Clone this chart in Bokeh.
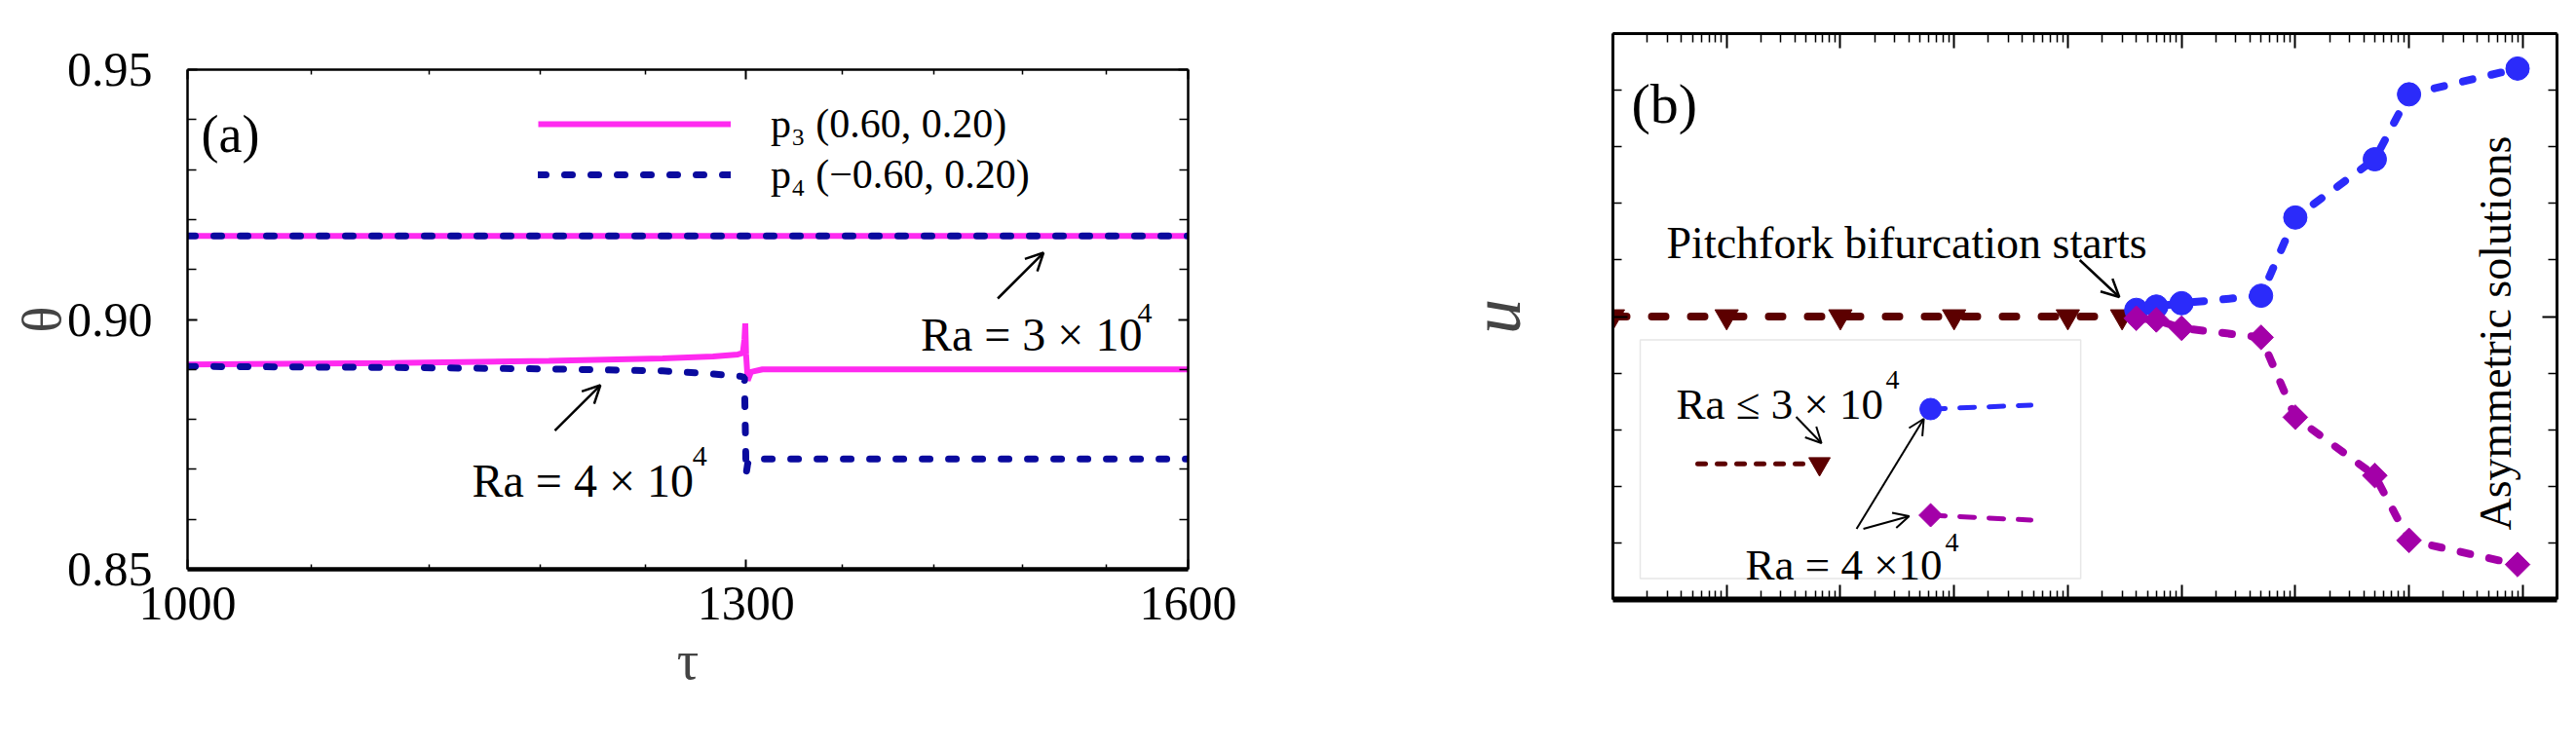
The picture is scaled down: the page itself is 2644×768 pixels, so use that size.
import math
from bokeh.plotting import figure
from bokeh.core.properties import value
from bokeh.models import (Range1d, FixedTicker, LogAxis, LinearAxis, PrintfTickFormatter,
                          Label, Arrow, OpenHead, BoxAnnotation, Legend, LegendItem)
from bokeh.embed import file_html
from bokeh.resources import INLINE

FONT = "Liberation Serif"

# ---------------- panel (a) data ----------------
tau_ra3 = [1000, 1600]
theta_ra3_p3 = [0.9167, 0.9167]
theta_ra3_p4 = [0.9167, 0.9167]

tau_p3_ra4 = [1000, 1100, 1185, 1250, 1280, 1295, 1298, 1299, 1299.5, 1300, 1301, 1303, 1310, 1400, 1600]
theta_p3_ra4 = [0.8910, 0.8913, 0.8917, 0.8922, 0.8926, 0.8930, 0.8933, 0.8960, 0.8992, 0.8930,
                0.8878, 0.8895, 0.8900, 0.8900, 0.8900]

tau_p4_ra4 = [1000, 1100, 1185, 1250, 1280, 1290, 1297, 1299, 1300, 1301, 1303, 1310, 1400, 1600]
theta_p4_ra4 = [0.8906, 0.8904, 0.8901, 0.8897, 0.8891, 0.8888, 0.8886, 0.8884, 0.8690, 0.8712,
                0.8720, 0.8721, 0.8721, 0.8721]

a_xticks = [1000, 1300, 1600]
a_xminor = [1060, 1120, 1180, 1240, 1360, 1420, 1480, 1540]
a_yticks = [0.85, 0.90, 0.95]
a_yminor = [0.86, 0.87, 0.88, 0.89, 0.91, 0.92, 0.93, 0.94]

# ---------------- panel (b) data ----------------
ra_sym = [1, 10, 100, 1000, 1e4, 3e4]
u_sym = [0, 0, 0, 0, 0, 0]
ra_asym = [4e4, 6e4, 1e5, 5e5, 1e6, 5e6, 1e7, 9e7]
u_upper = [0.0008, 0.0012, 0.0016, 0.0025, 0.0119, 0.0189, 0.0267, 0.0298]
u_lower = [-0.0002, -0.0004, -0.0014, -0.0025, -0.0121, -0.0191, -0.0269, -0.0298]

b_xticks = [10 ** k for k in range(9)]
b_xlabel_ticks = [1, 100, 1e4, 1e6, 1e8]
b_xlabel_exps = ["0", "2", "4", "6", "8"]
b_xminor = [m * 10 ** k for k in range(8) for m in range(2, 10)]
b_yticks = [-0.034, 0, 0.034]
b_ylabels = ["−0.034", "0", "0.034"]
b_yminor = [k * 0.0068 for k in (-4, -3, -2, -1, 1, 2, 3, 4)]

MAGENTA_A = "#ff2af0"
NAVY_A = "#0a0a9e"
BROWN = "#5c0000"
BLUE = "#2b2bfa"
PURPLE = "#a300a8"


def style_axis(ax, size, maj, minr, lw, show_labels=True):
    ax.major_tick_in = maj
    ax.major_tick_out = 0
    ax.minor_tick_in = minr
    ax.minor_tick_out = 0
    ax.axis_line_width = lw
    ax.axis_line_color = "black"
    ax.major_tick_line_width = 2
    ax.minor_tick_line_width = 1.5
    ax.major_tick_line_color = "black"
    ax.minor_tick_line_color = "black"
    ax.major_label_text_font = FONT
    ax.major_label_text_color = "black"
    if show_labels:
        ax.major_label_text_font_size = size
    else:
        ax.major_label_text_font_size = "0px"
        ax.major_label_standoff = 0


def lab(p, x, y, text, size, **kw):
    p.add_layout(Label(x=x, y=y, text=text, text_font=FONT, text_font_size=size,
                       text_color="black", text_baseline=kw.pop("baseline", "alphabetic"),
                       text_align=kw.pop("align", "left"), **kw))


def arrow(p, xs, ys, xe, ye, size=18, lw=2.5):
    p.add_layout(Arrow(end=OpenHead(size=size, line_width=lw, line_color="black"),
                       x_start=xs, y_start=ys, x_end=xe, y_end=ye,
                       line_width=lw, line_color="black"))


# ================= panel (a) =================
p1 = figure(x_axis_type="log", x_range=Range1d(1000, 1600), y_range=Range1d(0.85, 0.95),
            frame_width=1027, frame_height=513, min_border_left=180, min_border_right=123,
            min_border_top=63, min_border_bottom=176, output_backend="svg",
            toolbar_location=None, background_fill_color="white", border_fill_color="white")
p1.outline_line_color = None
p1.xgrid.visible = False
p1.ygrid.visible = False

xt_a = FixedTicker(ticks=a_xticks, minor_ticks=a_xminor)
yt_a = FixedTicker(ticks=a_yticks, minor_ticks=a_yminor)

p1.xaxis.ticker = xt_a
p1.xaxis.formatter = PrintfTickFormatter(format="%d")
style_axis(p1.xaxis[0], "50px", 10, 5, 4.5)
p1.xaxis.major_label_standoff = 18
p1.xaxis.axis_label = "τ"
p1.xaxis.axis_label_text_font = FONT
p1.xaxis.axis_label_text_font_size = "56px"
p1.xaxis.axis_label_text_font_style = "normal"
p1.xaxis.axis_label_standoff = 8

p1.yaxis.ticker = yt_a
p1.yaxis.formatter = PrintfTickFormatter(format="%.2f")
style_axis(p1.yaxis[0], "50px", 10, 9, 2.5)
p1.yaxis.major_label_standoff = 36
p1.yaxis.axis_label = "θ"
p1.yaxis.axis_label_text_font = FONT
p1.yaxis.axis_label_text_font_size = "56px"
p1.yaxis.axis_label_text_font_style = "normal"
p1.yaxis.axis_label_standoff = -8

top_a = LogAxis(ticker=xt_a, formatter=PrintfTickFormatter(format="%d"))
style_axis(top_a, "0px", 10, 5, 2.5, show_labels=False)
p1.add_layout(top_a, "above")
right_a = LinearAxis(ticker=yt_a)
style_axis(right_a, "0px", 10, 9, 2.5, show_labels=False)
p1.add_layout(right_a, "right")

r3a = p1.line(tau_ra3, theta_ra3_p3, line_color=MAGENTA_A, line_width=6)
r3b = p1.line(tau_ra3, theta_ra3_p4, line_color=NAVY_A, line_width=7, line_dash="8 19",
              line_cap="round")
rp3 = p1.line(tau_p3_ra4, theta_p3_ra4, line_color=MAGENTA_A, line_width=6)
rp4 = p1.line(tau_p4_ra4, theta_p4_ra4, line_color=NAVY_A, line_width=7, line_dash="8 19",
              line_cap="round")

leg = Legend(items=[LegendItem(label="p₃ (0.60, 0.20)", renderers=[rp3]),
                    LegendItem(label="p₄ (−0.60, 0.20)", renderers=[rp4])],
             location=(360, 379), orientation="vertical", glyph_width=198, glyph_height=52,
             label_height=52, label_standoff=41, spacing=0, padding=0, margin=0,
             border_line_color=None, background_fill_alpha=0,
             label_text_font=FONT, label_text_font_size="42px", label_text_color="black")
p1.add_layout(leg)

lab(p1, 1006.4, 0.93694, "(a)", "54px")
lab(p1, 1411.1, 0.89698, "Ra = 3 × 10", "48px")
lab(p1, 1562.3, 0.90127, "4", "30px")
arrow(p1, 1463.1, 0.90419, 1494.9, 0.91335)
lab(p1, 1143.0, 0.86774, "Ra = 4 × 10", "48px")
lab(p1, 1267.6, 0.87261, "4", "30px")
arrow(p1, 1188.3, 0.87774, 1214.0, 0.88684)

# ================= panel (b) =================
p2 = figure(x_axis_type="log", x_range=Range1d(1, 2e8), y_range=Range1d(-0.034, 0.034),
            x_axis_location=None, y_axis_location=None, title=None,
            frame_width=969, frame_height=581, min_border_left=313, min_border_right=16,
            min_border_top=26, min_border_bottom=145, output_backend="svg",
            toolbar_location=None, background_fill_color="white", border_fill_color="white")
p2.outline_line_color = None
p2.xgrid.visible = False
p2.ygrid.visible = False

xt_b = FixedTicker(ticks=b_xticks, minor_ticks=b_xminor)
yt_b = FixedTicker(ticks=b_yticks, minor_ticks=b_yminor)

# plain-number formatters (labels hidden); text labels are drawn separately below
bottom_b = LogAxis(ticker=xt_b, formatter=PrintfTickFormatter(format="%g"))
style_axis(bottom_b, "0px", 15, 9, 6, show_labels=False)
p2.add_layout(bottom_b, "below")
left_b = LinearAxis(ticker=yt_b, formatter=PrintfTickFormatter(format="%g"))
style_axis(left_b, "0px", 15, 9, 3, show_labels=False)
left_b.axis_label = "u"
left_b.axis_label_text_font = FONT
left_b.axis_label_text_font_size = "72px"
left_b.axis_label_text_font_style = "italic"
left_b.axis_label_standoff = 80
p2.add_layout(left_b, "left")
top_b = LogAxis(ticker=xt_b, formatter=PrintfTickFormatter(format="%g"))
style_axis(top_b, "0px", 15, 9, 3, show_labels=False)
p2.add_layout(top_b, "above")
right_b = LinearAxis(ticker=yt_b, formatter=PrintfTickFormatter(format="%g"))
style_axis(right_b, "0px", 15, 9, 3, show_labels=False)
p2.add_layout(right_b, "right")

# tick labels and x title of panel (b), drawn as text outside the frame
for t, e in zip(b_xlabel_ticks, b_xlabel_exps):
    lab(p2, t, -0.04237, "10", "56px", align="center")
    lab(p2, t * 1.70, -0.03956, e, "32px")
for t, s in zip(b_yticks, b_ylabels):
    lab(p2, 0.6607, t, s, "56px", align="right", baseline="middle")
lab(p2, 15490, -0.04881, "Ra", "58px", align="center")

p2.line(ra_sym, u_sym, line_color=BROWN, line_width=8, line_dash="14 26", line_cap="round")
p2.scatter(ra_sym, u_sym, marker="inverted_triangle", size=24, color=BROWN)
p2.line(ra_asym, u_upper, line_color=BLUE, line_width=8, line_dash="10 20", line_cap="round")
p2.scatter(ra_asym, u_upper, marker="circle", size=24, color=BLUE)
p2.line(ra_asym, u_lower, line_color=PURPLE, line_width=8, line_dash="10 20", line_cap="round")
p2.scatter(ra_asym, u_lower, marker="square", angle=math.pi / 4, size=18, color=PURPLE)

# inset legend box
p2.add_layout(BoxAnnotation(left=1.738, right=12975, bottom=-0.031484, top=-0.002809,
                            fill_alpha=0, line_color="#b0b0b0", line_width=1.5, level="underlay"))
inset_brown_x = [5.567, 48.76]
inset_brown_y = [-0.0177, -0.0177]
p2.line(inset_brown_x, inset_brown_y, line_color=BROWN, line_width=5, line_dash="8 12", line_cap="round")
p2.scatter([65.55], [-0.0177], marker="inverted_triangle", size=22, color=BROWN)
p2.line([621.6, 4744], [-0.011119, -0.010651], line_color=BLUE, line_width=5, line_dash="15 15",
        line_cap="round")
p2.scatter([621.6], [-0.011119], marker="circle", size=22, color=BLUE)
p2.line([621.6, 4744], [-0.023876, -0.024461], line_color=PURPLE, line_width=5, line_dash="15 15",
        line_cap="round")
p2.scatter([621.6], [-0.023876], marker="square", angle=math.pi / 4, size=17, color=PURPLE)

p2.text(x=[5.8e7], y=[-0.00199], text=["Asymmetric solutions"], angle=math.pi / 2,
        text_font=value(FONT), text_font_size="46px", text_color="black",
        text_align="center", text_baseline="alphabetic")
lab(p2, 1.455, 0.025515, "(b)", "58px")
lab(p2, 2.96, 0.008778, "Pitchfork bifurcation starts", "46px")
arrow(p2, 12720, 0.006788, 28346, 0.002341)
lab(p2, 3.606, -0.010534, "Ra ≤ 3 × 10", "45px")
lab(p2, 250.8, -0.007608, "4", "28px")
arrow(p2, 40.83, -0.012055, 68.21, -0.015215, size=16, lw=2)
arrow(p2, 138.8, -0.025515, 541.4, -0.012289, size=16, lw=2)
arrow(p2, 159.3, -0.025515, 402.7, -0.023993, size=16, lw=2)
lab(p2, 14.63, -0.029845, "Ra = 4 ×10", "45px")
lab(p2, 835.7, -0.027153, "4", "28px")

# two independent roots laid side by side
html = file_html((p1, p2), INLINE)
html = html.replace("</head>",
                    "<style>body{display:flex;flex-direction:row;flex-wrap:nowrap;"
                    "align-items:flex-start;margin:8px;width:max-content;}</style></head>", 1)
open("out.html", "w").write(html)
